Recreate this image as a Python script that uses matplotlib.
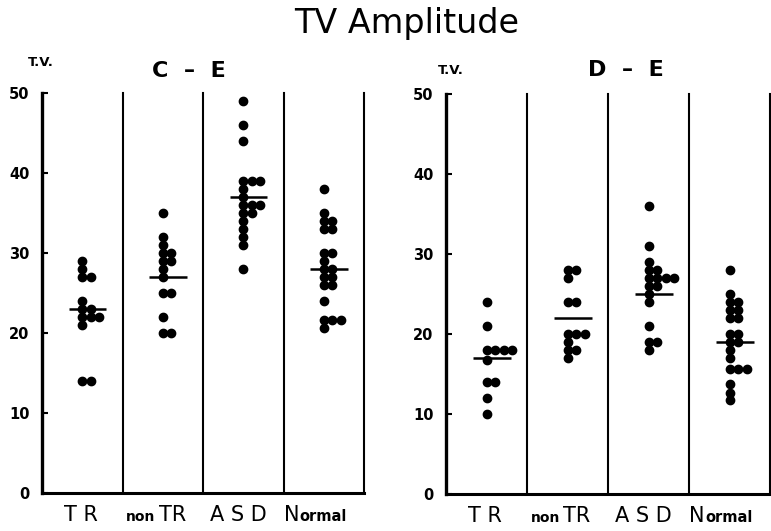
import matplotlib
matplotlib.use("Agg")
import matplotlib.pyplot as plt

plt.rcParams['font.family'] = ['DejaVu Sans']

categories = ["TR", "nonTR", "ASD", "Normal"]
y_ticks = [0, 10, 20, 30, 40, 50]

# C - E panel
ce_tr = [29, 28, 27, 27, 24, 23, 23, 22, 22, 22, 21, 14, 14]
ce_nontr = [35, 32, 31, 30, 30, 29, 29, 28, 27, 25, 25, 22, 20, 20]
ce_asd = [49, 46, 44, 39, 39, 39, 38, 37, 36, 36, 36, 35, 35, 34, 33, 32, 31, 28]
ce_normal = [38, 35, 34, 34, 33, 33, 30, 30, 29, 28, 28, 27, 27, 26, 26, 24,
             21.6, 21.6, 21.6, 20.6]
ce_means = [23, 27, 37, 28]

# D - E panel
de_tr = [24, 21, 18, 18, 18, 18, 16.8, 14, 14, 12, 10]
de_nontr = [28, 28, 27, 24, 24, 20, 20, 20, 19, 18, 18, 17]
de_asd = [36, 31, 29, 28, 28, 27, 27, 27, 27, 26, 26, 25, 24, 21, 19, 19, 18]
de_normal = [28, 25, 24, 24, 23, 23, 22, 22, 20, 20, 19, 19, 18, 17,
             15.6, 15.6, 15.6, 13.8, 12.6, 11.7]
de_means = [17, 22, 25, 19]

W, H = 771, 531
fig = plt.figure(figsize=(W / 100, H / 100), dpi=100)


def px(x, y):
    return x / W, 1 - y / H


def make_axes(x0, x1, ytop, ybot):
    return fig.add_axes([x0 / W, 1 - ybot / H, (x1 - x0) / W, (ybot - ytop) / H])


def draw_panel(ax, groups, means):
    ax.set_xlim(0, 4)
    ax.set_ylim(0, 50)
    for s in ("top", "right"):
        ax.spines[s].set_visible(False)
    ax.spines["left"].set_linewidth(2.4)
    ax.spines["bottom"].set_linewidth(2.2)
    for xv in (1, 2, 3, 4):
        ax.axvline(xv, color="black", lw=1.5, clip_on=False)
    ax.set_xticks([])
    ax.set_yticks(y_ticks)
    ax.set_yticklabels([str(t) for t in y_ticks], fontweight="heavy", fontsize=10.5)
    ax.tick_params(axis="y", direction="in", length=4, width=1.5, pad=9)
    for i, vals in enumerate(groups):
        center = i + 0.5
        seen = {}
        xs = []
        for v in vals:
            k = seen.get(v, 0)
            seen[v] = k + 1
            xs.append(center + k * 0.105)
        ax.plot(xs, vals, "o", color="black", markersize=6, clip_on=False)
        ax.plot([center - 0.17, center + 0.3], [means[i], means[i]],
                color="black", lw=1.8, solid_capstyle="butt")
    # category labels
    yb = -3.5
    ax.text(0.48, yb, "T R", ha="center", va="baseline", fontsize=15, clip_on=False)
    ax.text(1.41, yb, "non", ha="right", va="baseline", fontsize=10,
            fontweight="bold", clip_on=False)
    ax.text(1.45, yb, "TR", ha="left", va="baseline", fontsize=15, clip_on=False)
    ax.text(2.44, yb, "A S D", ha="center", va="baseline", fontsize=15, clip_on=False)
    ax.text(3.0, yb, "N", ha="left", va="baseline", fontsize=15, clip_on=False)
    ax.text(3.2, yb, "ormal", ha="left", va="baseline", fontsize=10.5,
            fontweight="bold", clip_on=False)


ax1 = make_axes(42, 364, 93, 493)
draw_panel(ax1, [ce_tr, ce_nontr, ce_asd, ce_normal], ce_means)
ax2 = make_axes(446, 770, 94, 494)
draw_panel(ax2, [de_tr, de_nontr, de_asd, de_normal], de_means)

fig.text(*px(407, 23), "TV Amplitude", ha="center", va="center", fontsize=24)
fig.text(*px(41, 63), "T.V.", ha="center", va="center", fontsize=9.5, fontweight="bold")
fig.text(*px(451, 70), "T.V.", ha="center", va="center", fontsize=9.5, fontweight="bold")
fig.text(*px(189, 71), "C  \u2013  E", ha="center", va="center", fontsize=16,
         fontweight="bold")
fig.text(*px(626, 70), "D  \u2013  E", ha="center", va="center", fontsize=16,
         fontweight="bold")

fig.savefig("out.png", dpi=100, facecolor="white")
